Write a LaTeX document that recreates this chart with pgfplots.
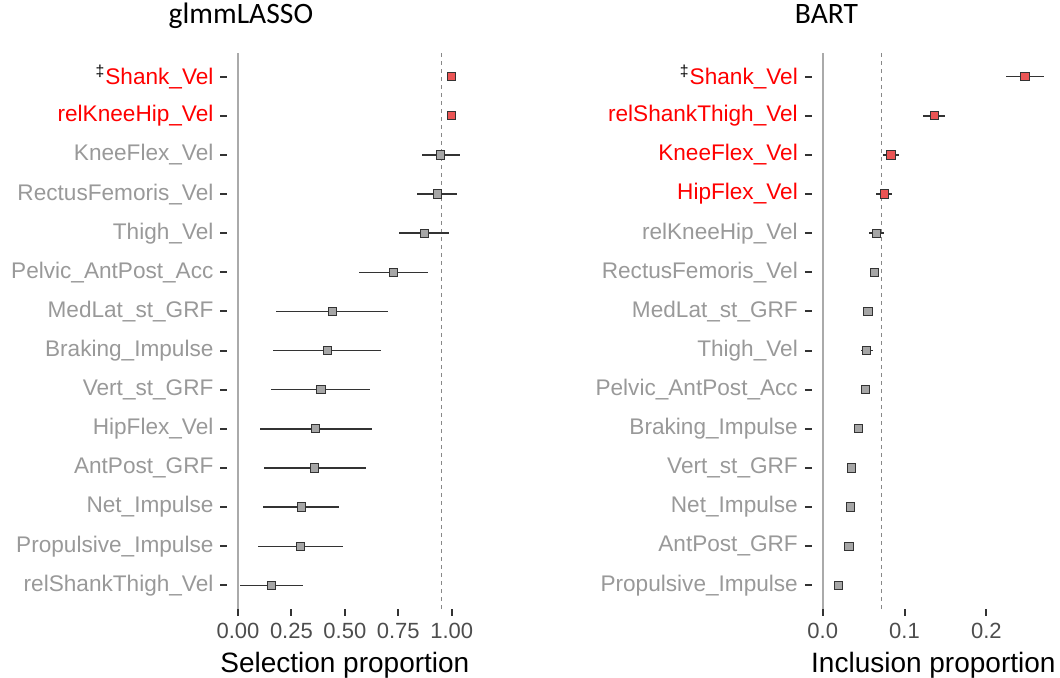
\documentclass[border=0pt]{standalone}
\usepackage{fontspec}
\setmainfont{Liberation Sans}
\newfontfamily\calibri{Carlito}
\usepackage{pgfplots}
\pgfplotsset{compat=1.18}
\usepackage{pgfplotstable}
\definecolor{lblgrey}{HTML}{999999}
\definecolor{numgrey}{HTML}{4D4D4D}
\definecolor{tickc}{HTML}{333333}
\definecolor{edge}{HTML}{333333}
\definecolor{gfill}{HTML}{A6A6A6}
\definecolor{rfill}{HTML}{EB5555}
\definecolor{zeroline}{HTML}{AAAAAA}
\definecolor{dashc}{HTML}{888888}

% glmmLASSO: selection proportion
\pgfplotstableread{
y x lo hi
12 0.949 0.862 1.037
11 0.933 0.838 1.026
10 0.872 0.754 0.989
9 0.728 0.568 0.887
8 0.441 0.179 0.700
7 0.417 0.165 0.667
6 0.388 0.154 0.619
5 0.363 0.105 0.625
4 0.358 0.122 0.598
3 0.296 0.119 0.472
2 0.292 0.093 0.491
1 0.157 0.010 0.302
}\lassogrey
\pgfplotstableread{
y x lo hi
14 1.0 1.0 1.0
13 1.0 1.0 1.0
}\lassored

% BART: inclusion proportion
\pgfplotstableread{
y x lo hi
10 0.0660 0.0566 0.0746
9 0.0631 0.0578 0.0689
8 0.0554 0.0538 0.0570
7 0.0538 0.0469 0.0610
6 0.0526 0.0512 0.0540
5 0.0436 0.0387 0.0485
4 0.0354 0.0343 0.0365
3 0.0338 0.0327 0.0349
2 0.0322 0.0311 0.0333
1 0.0191 0.0180 0.0202
}\bartgrey
\pgfplotstableread{
y x lo hi
14 0.2472 0.2240 0.2706
13 0.1369 0.1230 0.1495
12 0.0835 0.0741 0.0933
11 0.0753 0.0652 0.0847
}\bartred

\pgfplotsset{
  forest/.style={
    scale only axis, height=277.8pt,
    ymin=0.4, ymax=14.6, ytick={1,...,14},
    axis line style={draw=none},
    tick align=outside, major tick length=3.4pt,
    tick style={line width=1pt, color=tickc},
    tick pos=left,
    yticklabel style={font=\fontsize{11.3}{13}\selectfont, color=lblgrey},
    xticklabel style={font=\fontsize{11}{13}\selectfont, color=numgrey},
    xlabel style={font=\fontsize{14}{16}\selectfont, color=black},
  },
  gpts/.style={only marks, mark=square*, mark size=2.05pt,
    mark options={fill=gfill, draw=edge, line width=0.5pt},
    error bars/.cd, x dir=both, x explicit, error mark=none,
    error bar style={line width=0.7pt, color=edge}},
  rpts/.style={only marks, mark=square*, mark size=2.05pt,
    mark options={fill=rfill, draw=edge, line width=0.5pt},
    error bars/.cd, x dir=both, x explicit, error mark=none,
    error bar style={line width=0.7pt, color=edge}},
}

\begin{document}
\begin{tikzpicture}
\useasboundingbox (0,0) rectangle (530pt,338.5pt);
\begin{axis}[forest,
  at={(113.65pt,34.1pt)}, anchor=south west, width=117.55pt,
  xmin=-0.05, xmax=1.05,
  xtick={0,0.25,0.5,0.75,1}, xticklabels={0.00,0.25,0.50,0.75,1.00},
  yticklabels={{relShankThigh\_Vel},{Propulsive\_Impulse},{Net\_Impulse},{AntPost\_GRF},{HipFlex\_Vel},{Vert\_st\_GRF},{Braking\_Impulse},{MedLat\_st\_GRF},{Pelvic\_AntPost\_Acc},{Thigh\_Vel},{RectusFemoris\_Vel},{KneeFlex\_Vel},{\textcolor{red}{relKneeHip\_Vel}},{\textcolor{black}{\textsuperscript{‡}}\textcolor{red}{Shank\_Vel}}},
  xlabel={Selection proportion},
  title={glmmLASSO},
  title style={at={(axis description cs:0.058,1)}, anchor=base, yshift=9pt,
    font=\calibri\fontsize{14.8}{16}\selectfont, color=black},
]
\addplot[color=zeroline, line width=0.8pt] coordinates {(0,0.4) (0,14.6)};
\addplot[color=dashc, line width=0.5pt, dash pattern=on 2pt off 2pt] coordinates {(0.95,0.4) (0.95,14.6)};
\addplot[gpts] table[x=x, y=y, x error plus expr=\thisrow{hi}-\thisrow{x}, x error minus expr=\thisrow{x}-\thisrow{lo}] {\lassogrey};
\addplot[rpts] table[x=x, y=y, x error plus expr=\thisrow{hi}-\thisrow{x}, x error minus expr=\thisrow{x}-\thisrow{lo}] {\lassored};
\end{axis}

\begin{axis}[forest,
  at={(405.83pt,34.1pt)}, anchor=south west, width=121.7pt,
  xmin=-0.0135, xmax=0.284,
  xtick={0,0.1,0.2}, xticklabels={0.0,0.1,0.2},
  yticklabels={{Propulsive\_Impulse},{AntPost\_GRF},{Net\_Impulse},{Vert\_st\_GRF},{Braking\_Impulse},{Pelvic\_AntPost\_Acc},{Thigh\_Vel},{MedLat\_st\_GRF},{RectusFemoris\_Vel},{relKneeHip\_Vel},{\textcolor{red}{HipFlex\_Vel}},{\textcolor{red}{KneeFlex\_Vel}},{\textcolor{red}{relShankThigh\_Vel}},{\textcolor{black}{\textsuperscript{‡}}\textcolor{red}{Shank\_Vel}}},
  xlabel={Inclusion proportion},
  title={BART},
  title style={at={(axis description cs:0.061,1)}, anchor=base, yshift=9pt,
    font=\calibri\fontsize{14.8}{16}\selectfont, color=black},
]
\addplot[color=zeroline, line width=0.8pt] coordinates {(0,0.4) (0,14.6)};
\addplot[color=dashc, line width=0.5pt, dash pattern=on 2pt off 2pt] coordinates {(0.0714,0.4) (0.0714,14.6)};
\addplot[gpts] table[x=x, y=y, x error plus expr=\thisrow{hi}-\thisrow{x}, x error minus expr=\thisrow{x}-\thisrow{lo}] {\bartgrey};
\addplot[rpts] table[x=x, y=y, x error plus expr=\thisrow{hi}-\thisrow{x}, x error minus expr=\thisrow{x}-\thisrow{lo}] {\bartred};
\end{axis}
\end{tikzpicture}
\end{document}
